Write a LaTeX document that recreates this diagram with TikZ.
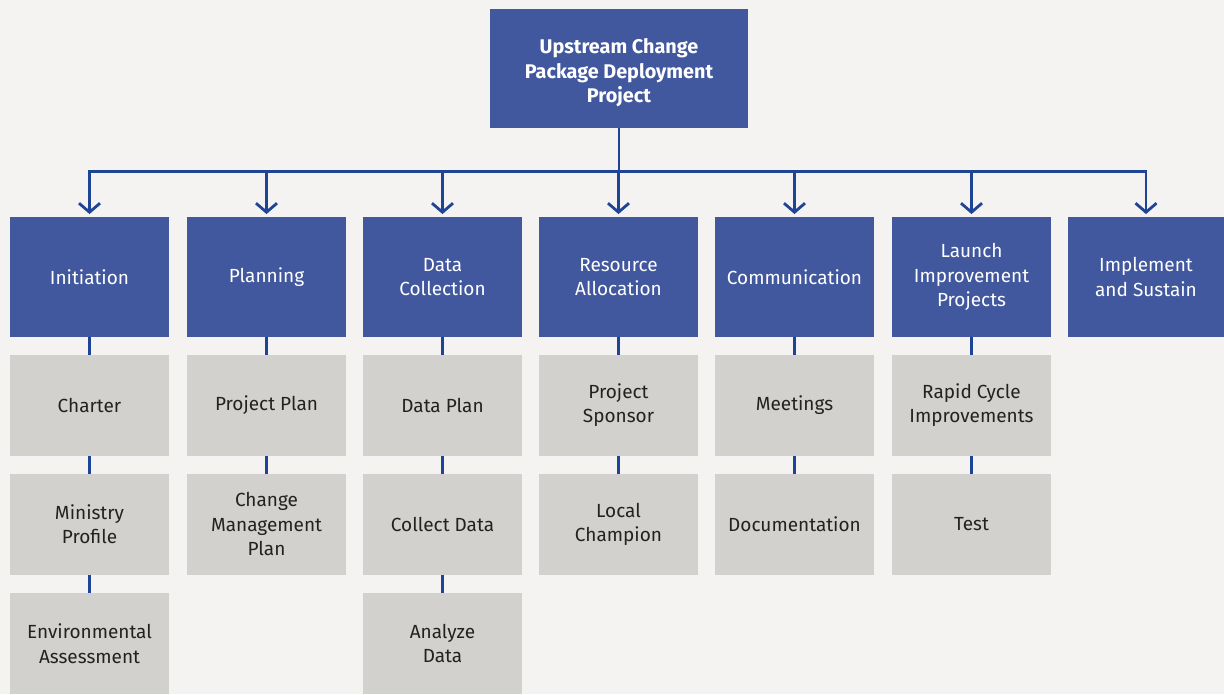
\documentclass[tikz,border=0pt]{standalone}
\usepackage{fontspec}
\setmainfont{Fira Sans}
\usetikzlibrary{arrows.meta}
\definecolor{bg}{HTML}{F4F3F1}
\definecolor{boxblue}{HTML}{42589E}
\definecolor{linkblue}{HTML}{1E4495}
\definecolor{boxgray}{HTML}{D3D1CD}
\definecolor{txtgray}{HTML}{222222}
\tikzset{
  bluebox/.style={fill=boxblue, text=white, minimum width=159pt, minimum height=119.5pt, inner sep=0pt, align=center, font=\fontsize{19}{24.5}\selectfont},
  graybox/.style={fill=boxgray, text=txtgray, minimum width=159pt, minimum height=101pt, inner sep=0pt, align=center, font=\fontsize{19}{24.5}\selectfont},
  link/.style={draw=linkblue, line width=2.8pt},
  arr/.style={link, -{Straight Barb[length=9pt,width=21pt,line width=2.8pt]}, shorten >=3pt},
}
\begin{document}
\begin{tikzpicture}[x=1pt,y=-1pt]
\fill[bg] (0,0) rectangle (1224,694);
\useasboundingbox (0,0) rectangle (1224,694);
% top
\node[bluebox, minimum width=258pt, minimum height=119pt, font=\bfseries\fontsize{19.8}{24.5}\selectfont] (top) at (619,68.5) {\raisebox{-5pt}[\height][\depth]{\begin{tabular}{@{}c@{}}Upstream Change\\Package Deployment\\Project\end{tabular}}};
% level 1
\node[bluebox] (c1) at (89.5,277) {Initiation};
\node[bluebox] (c2) at (266.5,277) {Planning};
\node[bluebox] (c3) at (442.5,277) {Data\\Collection};
\node[bluebox] (c4) at (618.5,277) {Resource\\Allocation};
\node[bluebox] (c5) at (794.5,277) {Communication};
\node[bluebox] (c6) at (971.5,277) {Launch\\Improvement\\Projects};
\node[bluebox, minimum width=156pt] (c7) at (1146,277) {Implement\\and Sustain};
% level 2
\node[graybox] (a1) at (89.5,405.3) {Charter};
\node[graybox] (a2) at (89.5,524.3) {Ministry\\Profile};
\node[graybox] (a3) at (89.5,643.5) {Environmental\\Assessment};
\node[graybox] (b1) at (266.5,405.3) {Project Plan};
\node[graybox] (b2) at (266.5,524.3) {Change\\Management\\Plan};
\node[graybox] (d1) at (442.5,405.3) {Data Plan};
\node[graybox] (d2) at (442.5,524.3) {Collect Data};
\node[graybox] (d3) at (442.5,643.5) {Analyze\\Data};
\node[graybox] (e1) at (618.5,405.3) {Project\\Sponsor};
\node[graybox] (e2) at (618.5,524.3) {Local\\Champion};
\node[graybox] (f1) at (794.5,405.3) {Meetings};
\node[graybox] (f2) at (794.5,524.3) {Documentation};
\node[graybox] (g1) at (971.5,405.3) {Rapid Cycle\\Improvements};
\node[graybox] (g2) at (971.5,524.3) {Test};
% connectors from top
\foreach \c in {c1,c2,c3,c4,c5,c6,c7}
  \draw[arr] (top.south) -- ++(0,43) -| (\c.north);
% vertical links
\draw[link] (c1.south) -- (a1.north);
\draw[link] (a1.south) -- (a2.north);
\draw[link] (a2.south) -- (a3.north);
\draw[link] (c2.south) -- (b1.north);
\draw[link] (b1.south) -- (b2.north);
\draw[link] (c3.south) -- (d1.north);
\draw[link] (d1.south) -- (d2.north);
\draw[link] (d2.south) -- (d3.north);
\draw[link] (c4.south) -- (e1.north);
\draw[link] (e1.south) -- (e2.north);
\draw[link] (c5.south) -- (f1.north);
\draw[link] (f1.south) -- (f2.north);
\draw[link] (c6.south) -- (g1.north);
\draw[link] (g1.south) -- (g2.north);
\end{tikzpicture}
\end{document}
